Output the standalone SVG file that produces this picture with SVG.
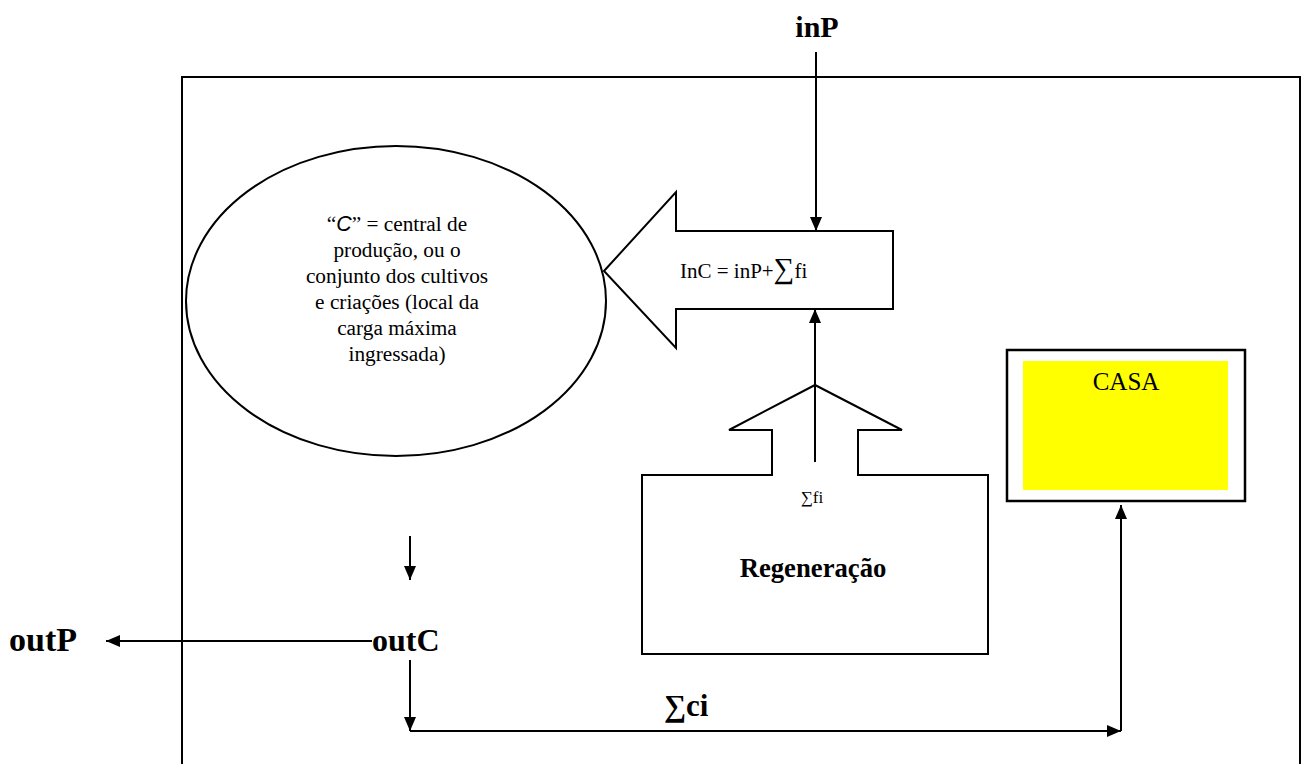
<svg xmlns="http://www.w3.org/2000/svg" width="1302" height="764" viewBox="0 0 1302 764">
<style>
.ln{fill:none;stroke:#000;stroke-width:2}
.sh{fill:#fff;stroke:#000;stroke-width:2}
.t{font-family:"Liberation Serif","Times New Roman",serif;fill:#000}
.b{font-weight:bold}
.ct{font-family:"Liberation Serif","Times New Roman",serif;font-size:21.3px;text-anchor:middle;fill:#000}
.ci{font-family:"Liberation Sans",Arial,sans-serif;font-style:italic}
</style>
<defs>
<marker id="ah" viewBox="0 0 14 12" refX="14" refY="6" markerWidth="14" markerHeight="12" markerUnits="userSpaceOnUse" orient="auto">
<path d="M0,0 L14,6 L0,12 Z" fill="#000"/>
</marker>
</defs>
<rect width="1302" height="764" fill="#fff"/>
<g id="frame"><path class="ln" d="M182,770 L182,77 L1300,77 L1300,770"/></g>
<g id="inP-label"><text class="t b" x="817" y="37" font-size="30" text-anchor="middle">inP</text></g>
<g id="central-C">
<ellipse class="sh" cx="396" cy="301" rx="210" ry="155"/>
<text class="ct" x="397" y="231">“<tspan class="ci">C</tspan>” = central de</text>
<text class="ct" x="397" y="257">produção, ou o</text>
<text class="ct" x="397" y="283">conjunto dos cultivos</text>
<text class="ct" x="397" y="309">e criações (local da</text>
<text class="ct" x="397" y="335">carga máxima</text>
<text class="ct" x="397" y="361">ingressada)</text>
</g>
<g id="inC-arrow">
<path class="sh" d="M604,271 L676,192 L676,231 L893,231 L893,309 L676,309 L676,348 Z"/>
<text class="t" x="680" y="278" font-size="21">InC = inP+<tspan font-size="29">∑</tspan>fi</text>
</g>
<g id="regeneracao">
<path class="sh" d="M642,475 L772,475 L772,430 L729,430 L815,385 L902,430 L858,430 L858,475 L988,475 L988,654 L642,654 Z"/>
<text class="t" x="812" y="503" font-size="17" text-anchor="middle">∑fi</text>
<text class="t b" x="813" y="577" font-size="26.7" text-anchor="middle">Regeneração</text>
</g>
<g id="casa">
<rect x="1007" y="350" width="238" height="151" fill="#fff" stroke="#000" stroke-width="2.5"/>
<rect x="1023" y="361" width="205" height="129" fill="#ffff00"/>
<text class="t" x="1126" y="390" font-size="25" text-anchor="middle">CASA</text>
</g>
<g id="outP-label"><text class="t b" x="9" y="651" font-size="34">outP</text></g>
<g id="outC-label"><text class="t b" x="372" y="651" font-size="32">outC</text></g>
<g id="sumci-label"><text class="t b" x="664" y="716" font-size="31">∑ci</text></g>
<g id="connectors">
<line class="ln" x1="816" y1="52" x2="816" y2="231" marker-end="url(#ah)"/>
<line class="ln" x1="815" y1="462" x2="815" y2="309" marker-end="url(#ah)"/>
<line class="ln" x1="410" y1="536" x2="410" y2="580" marker-end="url(#ah)"/>
<line class="ln" x1="372" y1="641" x2="106" y2="641" marker-end="url(#ah)"/>
<line class="ln" x1="410" y1="660" x2="410" y2="731" marker-end="url(#ah)"/>
<line class="ln" x1="410" y1="731" x2="1121" y2="731" marker-end="url(#ah)"/>
<line class="ln" x1="1121" y1="731" x2="1121" y2="505" marker-end="url(#ah)"/>
</g>
</svg>
